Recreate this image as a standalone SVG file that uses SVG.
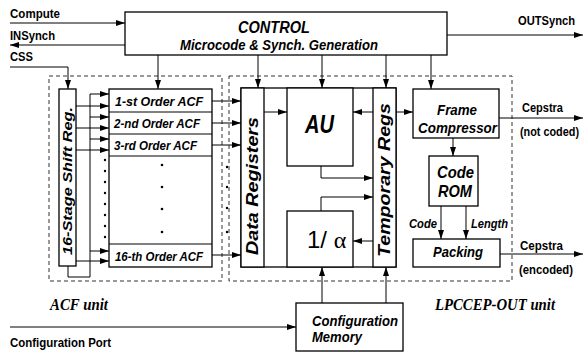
<svg xmlns="http://www.w3.org/2000/svg" width="584" height="354" viewBox="0 0 584 354">
<defs>
<marker id="ah" viewBox="0 0 9 6" refX="9" refY="3" markerWidth="9" markerHeight="6" orient="auto" markerUnits="userSpaceOnUse"><path d="M0,0 L9,3 L0,6 z" fill="#000"/></marker>
<style>
.box{fill:#fff;stroke:#000;stroke-width:1.3}
.dash{fill:none;stroke:#333;stroke-width:1;stroke-dasharray:4,3}
.ln{fill:none;stroke:#000;stroke-width:1}
.arr{fill:none;stroke:#000;stroke-width:1;marker-end:url(#ah)}
text{font-family:"Liberation Sans",Arial,sans-serif;font-weight:bold;fill:#000}
.bi{font-style:italic}
.serif{font-family:"Liberation Serif","Times New Roman",serif;font-style:italic;font-weight:bold}
.dot{fill:#000}
</style>
</defs>

<g id="acf-unit"><rect class="dash" x="49" y="76" width="173" height="205"/><text class="serif" x="50" y="310" font-size="17" textLength="58" lengthAdjust="spacingAndGlyphs">ACF unit</text></g>
<g id="lpccep-unit"><rect class="dash" x="229" y="76" width="283" height="205"/><text class="serif" x="435" y="310" font-size="17" textLength="120" lengthAdjust="spacingAndGlyphs">LPCCEP-OUT unit</text></g>

<g id="control"><rect class="box" x="125" y="12" width="322" height="43"/>
<text class="bi" x="238" y="33" font-size="16" textLength="72" lengthAdjust="spacingAndGlyphs">CONTROL</text>
<text class="bi" x="180" y="50" font-size="14" textLength="198" lengthAdjust="spacingAndGlyphs">Microcode &amp; Synch. Generation</text></g>

<g id="shift-reg"><rect class="box" x="59" y="89" width="17" height="177"/>
<text class="bi" transform="translate(72,255) rotate(-90)" font-size="13" textLength="148" lengthAdjust="spacingAndGlyphs">16-Stage Shift Reg.</text></g>

<g id="acf-bank"><rect class="box" x="109" y="89" width="103" height="178"/>
<line class="ln" x1="109" y1="112" x2="212" y2="112" stroke-width="1.3"/>
<line class="ln" x1="109" y1="134" x2="212" y2="134" stroke-width="1.3"/>
<line class="ln" x1="109" y1="156" x2="212" y2="156" stroke-width="1.3"/>
<line class="ln" x1="109" y1="244" x2="212" y2="244" stroke-width="1.3"/>
<text class="bi" x="115" y="106" font-size="13" textLength="88" lengthAdjust="spacingAndGlyphs">1-st Order ACF</text>
<text class="bi" x="114" y="128" font-size="13" textLength="86" lengthAdjust="spacingAndGlyphs">2-nd Order ACF</text>
<text class="bi" x="114" y="150" font-size="13" textLength="83" lengthAdjust="spacingAndGlyphs">3-rd Order ACF</text>
<text class="bi" x="115" y="261" font-size="13" textLength="88" lengthAdjust="spacingAndGlyphs">16-th Order ACF</text>
<circle class="dot" cx="162" cy="165" r="1.3"/><circle class="dot" cx="162" cy="187" r="1.3"/><circle class="dot" cx="162" cy="209" r="1.3"/><circle class="dot" cx="162" cy="232" r="1.3"/></g>

<g id="processor"><rect class="box" x="241" y="88" width="155" height="179"/></g>
<g id="data-registers"><rect class="box" x="241" y="88" width="23" height="179"/>
<text class="bi" transform="translate(258,255) rotate(-90)" font-size="16" textLength="138" lengthAdjust="spacingAndGlyphs">Data Registers</text></g>
<g id="temporary-regs"><rect class="box" x="373" y="88" width="23" height="179"/>
<text class="bi" transform="translate(390,257) rotate(-90)" font-size="16" textLength="154" lengthAdjust="spacingAndGlyphs">Temporary Regs</text></g>
<g id="au"><rect class="box" x="287" y="88" width="66" height="78"/>
<text class="bi" x="305" y="133" font-size="25" textLength="29" lengthAdjust="spacingAndGlyphs">AU</text></g>
<g id="inv-alpha"><rect class="box" x="287" y="211" width="66" height="56"/>
<text x="307" y="248" font-size="24" style="font-weight:normal">1/ <tspan font-family="Liberation Serif">α</tspan></text></g>

<g id="frame-compressor"><rect class="box" x="413" y="89" width="86" height="49"/>
<text class="bi" x="437" y="115" font-size="15" textLength="40" lengthAdjust="spacingAndGlyphs">Frame</text>
<text class="bi" x="418" y="133" font-size="15" textLength="79" lengthAdjust="spacingAndGlyphs">Compressor</text></g>
<g id="code-rom"><rect class="box" x="429" y="156" width="49" height="50"/>
<text class="bi" x="437" y="178" font-size="17" textLength="37" lengthAdjust="spacingAndGlyphs">Code</text>
<text class="bi" x="438" y="197" font-size="17" textLength="34" lengthAdjust="spacingAndGlyphs">ROM</text></g>
<g id="packing"><rect class="box" x="413" y="239" width="87" height="28"/>
<text class="bi" x="433" y="257" font-size="15" textLength="50" lengthAdjust="spacingAndGlyphs">Packing</text></g>
<g id="configuration-memory"><rect class="box" x="296" y="303" width="107" height="48"/>
<text class="bi" x="312" y="326" font-size="15" textLength="86" lengthAdjust="spacingAndGlyphs">Configuration</text>
<text class="bi" x="312" y="342" font-size="15" textLength="50" lengthAdjust="spacingAndGlyphs">Memory</text></g>

<g id="connectors">
<path class="arr" d="M10,23 H125"/>
<path class="arr" d="M125,45 H10"/>
<path class="arr" d="M10,67 H68 V89"/>
<path class="arr" d="M447,35 H583"/>
<path class="arr" d="M158,55 V89"/>
<path class="arr" d="M258,55 V88"/>
<path class="arr" d="M322,55 V88"/>
<path class="arr" d="M386,55 V88"/>
<path class="arr" d="M431,55 V89"/>
<path class="ln" d="M68,266 V277 H90 V94"/>
<path class="arr" d="M90,94 H109"/>
<path class="arr" d="M90,117 H109"/>
<path class="arr" d="M90,139 H109"/>
<path class="arr" d="M90,251 H109"/>
<path class="arr" d="M76,106 H109"/>
<path class="arr" d="M76,128 H109"/>
<path class="arr" d="M76,150 H109"/>
<path class="arr" d="M76,261 H109"/>
<path class="arr" d="M212,101 H241"/>
<path class="arr" d="M212,123 H241"/>
<path class="arr" d="M212,145 H241"/>
<path class="arr" d="M212,255 H241"/>
<path class="arr" d="M264,112 H287"/>
<path class="arr" d="M373,112 H353"/>
<path class="arr" d="M321,166 V178 H373"/>
<path class="arr" d="M321,211 V197 H373"/>
<path class="arr" d="M373,241 H353"/>
<path class="arr" d="M396,112 H413"/>
<path class="arr" d="M453,138 V156"/>
<path class="arr" d="M441,206 V239"/>
<path class="arr" d="M466,206 V239"/>
<path class="arr" d="M499,118 H583"/>
<path class="arr" d="M500,254 H583"/>
<path class="arr" d="M10,327 H296"/>
<path class="arr" d="M322,303 V267"/>
<path class="arr" d="M386,303 V267"/>
<g class="dot">
<circle cx="105" cy="160" r="1.2"/><circle cx="105" cy="171" r="1.2"/><circle cx="105" cy="182" r="1.2"/><circle cx="105" cy="193" r="1.2"/><circle cx="105" cy="204" r="1.2"/><circle cx="105" cy="215" r="1.2"/><circle cx="105" cy="226" r="1.2"/><circle cx="105" cy="237" r="1.2"/>
<circle cx="227" cy="167" r="1.2"/><circle cx="227" cy="187" r="1.2"/><circle cx="227" cy="208" r="1.2"/><circle cx="227" cy="232" r="1.2"/>
</g>
</g>

<g id="labels">
<text x="10" y="18" font-size="12" textLength="50" lengthAdjust="spacingAndGlyphs">Compute</text>
<text x="10" y="40" font-size="12" textLength="45" lengthAdjust="spacingAndGlyphs">INSynch</text>
<text x="10" y="61" font-size="12" textLength="23" lengthAdjust="spacingAndGlyphs">CSS</text>
<text x="518" y="25" font-size="12" textLength="57" lengthAdjust="spacingAndGlyphs">OUTSynch</text>
<text x="522" y="112" font-size="12" textLength="41" lengthAdjust="spacingAndGlyphs">Cepstra</text>
<text x="520" y="136" font-size="12" textLength="59" lengthAdjust="spacingAndGlyphs">(not coded)</text>
<text x="520" y="250" font-size="12" textLength="43" lengthAdjust="spacingAndGlyphs">Cepstra</text>
<text x="519" y="274" font-size="12" textLength="54" lengthAdjust="spacingAndGlyphs">(encoded)</text>
<text class="bi" x="409" y="228" font-size="12" textLength="28" lengthAdjust="spacingAndGlyphs">Code</text>
<text class="bi" x="471" y="228" font-size="12" textLength="37" lengthAdjust="spacingAndGlyphs">Length</text>
<text x="10" y="347" font-size="12" textLength="101" lengthAdjust="spacingAndGlyphs">Configuration Port</text>
</g>
</svg>
